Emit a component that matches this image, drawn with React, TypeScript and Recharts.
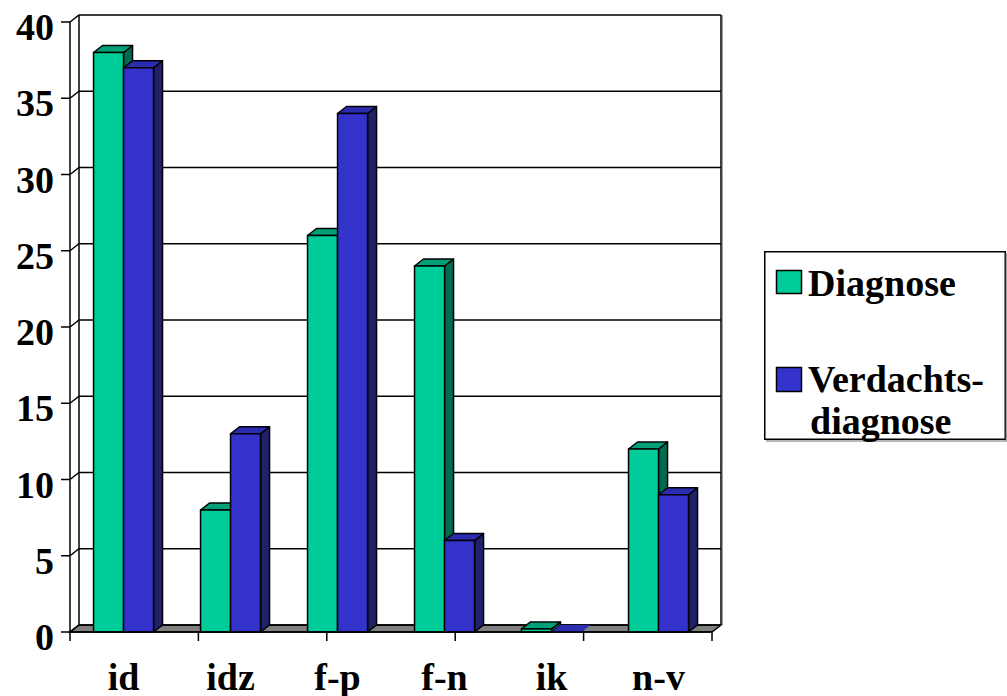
import React from 'react';
import { BarChart, Bar, XAxis, YAxis, CartesianGrid, Legend } from 'recharts';

const categories = ['id', 'idz', 'f-p', 'f-n', 'ik', 'n-v'];
const diagnoseValues = [38, 8, 26, 24, 0.2, 12];
const verdachtValues = [37, 13, 34, 6, 0, 9];
const yTicks = [0, 5, 10, 15, 20, 25, 30, 35, 40];
// Kategoriegrenzen für die Tickstriche unter der Bodenplatte
const edgeTicks = [0, 1, 2, 3, 4, 5, 6];

const data = categories.map((cat, i) => ({
  cat,
  diagnose: diagnoseValues[i],
  verdacht: verdachtValues[i],
}));

// Tiefe der 3D-Darstellung (nach rechts / nach oben)
const DX = 9;
const DY = 7;
const FONT = '"Liberation Serif", "Times New Roman", serif';
const SW = 1.5;

const faces = {
  diagnose: { front: '#00CC99', top: '#00A078', side: '#006B50' },
  verdacht: { front: '#3333CC', top: '#2C2CB0', side: '#20206B' },
};

type Face = { front: string; top: string; side: string };

function column3d(c: Face) {
  return (props: any) => {
    const { x, y, width: w, height: h } = props;
    if (x == null || y == null) return <g />;
    if (!h || h < 0.5) {
      // Wert 0: nur die flache Deckfläche
      return (
        <polygon
          points={`${x},${y} ${x + DX},${y - DY} ${x + w + DX},${y - DY} ${x + w},${y}`}
          fill={c.top}
        />
      );
    }
    return (
      <g>
        <polygon
          points={`${x + w},${y} ${x + w + DX},${y - DY} ${x + w + DX},${y + h - DY} ${x + w},${y + h}`}
          fill={c.side}
          stroke="#000"
          strokeWidth={SW}
          strokeLinejoin="round"
        />
        <polygon
          points={`${x},${y} ${x + DX},${y - DY} ${x + w + DX},${y - DY} ${x + w},${y}`}
          fill={c.top}
          stroke="#000"
          strokeWidth={SW}
          strokeLinejoin="round"
        />
        <rect x={x} y={y} width={w} height={h} fill={c.front} stroke="#000" strokeWidth={SW} />
      </g>
    );
  };
}

// Rückwand-Linien inkl. Schräge an der Seitenwand; unterste Linie = Boden
const renderHorizontal = (p: any) => {
  const { x1, x2, y1, y, height } = p;
  const isFloor = Math.abs(y1 - (y + height)) < 0.5;
  return (
    <g key={p.key}>
      {isFloor && (
        <polygon
          points={`${x1},${y1} ${x2},${y1} ${x2 + DX},${y1 - DY} ${x1 + DX},${y1 - DY}`}
          fill="#808080"
          stroke="#000"
          strokeWidth={SW}
        />
      )}
      <polyline
        points={`${x1},${y1} ${x1 + DX},${y1 - DY} ${x2 + DX},${y1 - DY}`}
        fill="none"
        stroke="#000"
        strokeWidth={SW}
      />
    </g>
  );
};

const renderVertical = (p: any) => {
  const { x1, y1, y2, x, width } = p;
  if (x1 < x - 0.5 || x1 > x + width + 0.5) return <g key={p.key} />;
  const isLeft = Math.abs(x1 - x) < 0.5;
  const isRight = Math.abs(x1 - (x + width)) < 0.5;
  return (
    <g key={p.key}>
      <line x1={x1} y1={y2} x2={x1} y2={y2 + 9} stroke="#000" strokeWidth={SW} />
      {(isLeft || isRight) && (
        <line x1={x1 + DX} y1={y1 - DY} x2={x1 + DX} y2={y2 - DY} stroke="#000" strokeWidth={SW} />
      )}
      {isRight && (
        <line x1={x1 + DX + 1.5} y1={y1 - DY} x2={x1 + DX + 1.5} y2={y2 - DY} stroke="#A0A0A0" strokeWidth={1} />
      )}
    </g>
  );
};

const YTick = (p: any) => (
  <text x={p.x} y={p.y} dy={18} textAnchor="end" fontFamily={FONT} fontWeight="bold" fontSize={38} fill="#000">
    {p.payload.value}
  </text>
);

const XTick = (p: any) => (
  <text x={p.x} y={p.y} dy={58} textAnchor="middle" fontFamily={FONT} fontWeight="bold" fontSize={38} fill="#000">
    {p.payload.value}
  </text>
);

const renderLegend = () => (
  <svg width={243} height={192} style={{ display: 'block', overflow: 'visible' }}>
    <rect x={0.75} y={0.75} width={240.5} height={187.5} fill="#fff" stroke="#000" strokeWidth={1.5} />
    <polyline points="2,190 242.5,190 242.5,2" fill="none" stroke="#A0A0A0" strokeWidth={1.5} />
    <g fontFamily={FONT} fontWeight="bold" fontSize={38} fill="#000">
      <rect x={12.5} y={19.5} width={25} height={23} fill={faces.diagnose.front} stroke="#000" strokeWidth={1.5} />
      <text x={44} y={45}>Diagnose</text>
      <rect x={12.5} y={116.5} width={25} height={24} fill={faces.verdacht.front} stroke="#000" strokeWidth={1.5} />
      <text x={44} y={141}>Verdachts-</text>
      <text x={46} y={183}>diagnose</text>
    </g>
  </svg>
);

export default function App() {
  return (
    <div style={{ position: 'absolute', left: 0, top: 0, width: 1007, height: 696, overflow: 'hidden', background: '#fff' }}>
      <BarChart
        width={1007}
        height={696}
        data={data}
        margin={{ top: 22, right: 295, bottom: 0, left: 0 }}
        barCategoryGap="22%"
        barGap={0}
      >
        <XAxis xAxisId="edge" type="number" domain={[0, 6]} ticks={edgeTicks} hide />
        <CartesianGrid
          xAxisId="edge"
          horizontal={renderHorizontal}
          vertical={renderVertical}
          stroke="#000"
        />
        <XAxis
          dataKey="cat"
          height={64}
          tickLine={false}
          tickSize={0}
          tickMargin={0}
          axisLine={{ stroke: '#000', strokeWidth: SW }}
          tick={XTick}
          interval={0}
        />
        <YAxis
          width={70}
          domain={[0, 40]}
          ticks={yTicks}
          tickSize={9}
          tickMargin={7}
          axisLine={{ stroke: '#000', strokeWidth: SW }}
          tickLine={{ stroke: '#000', strokeWidth: SW }}
          tick={YTick}
          interval={0}
        />
        <Bar dataKey="diagnose" name="Diagnose" fill={faces.diagnose.front} shape={column3d(faces.diagnose)} isAnimationActive={false} />
        <Bar dataKey="verdacht" name="Verdachtsdiagnose" fill={faces.verdacht.front} shape={column3d(faces.verdacht)} isAnimationActive={false} />
        <Legend
          layout="horizontal"
          verticalAlign="middle"
          content={renderLegend}
          wrapperStyle={{ left: 764, top: 251, width: 243, height: 192, margin: 0 }}
        />
      </BarChart>
    </div>
  );
}
